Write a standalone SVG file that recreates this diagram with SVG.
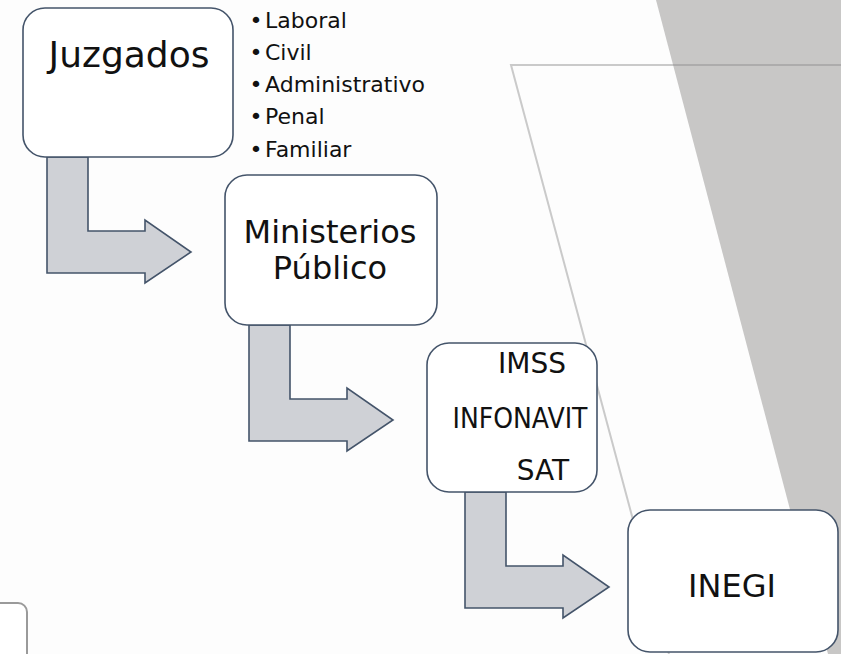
<svg xmlns="http://www.w3.org/2000/svg" width="841" height="654" viewBox="0 0 841 654">
  <style>
    .box { fill: #ffffff; stroke: #44546a; stroke-width: 1.6; }
    .arrow { fill: #cfd1d6; stroke: #44546a; stroke-width: 1.6; stroke-linejoin: miter; }
    .t { font-family: "DejaVu Sans", "Liberation Sans", sans-serif; fill: #111111; }
    .big { font-size: 32px; text-anchor: middle; }
    .li { font-size: 22px; }
    .bul { font-size: 22px; text-anchor: middle; }
  </style>
  <defs>
    <path id="bentArrow" d="M0,0 H41 V74 H98 V63 L144,95 L98,126 V116 H0 Z"/>
  </defs>

  <g id="background">
    <rect x="0" y="0" width="841" height="654" fill="#fdfdfd"/>
    <polygon points="656,0 841,0 841,654 828,654" fill="#c8c7c6"/>
    <polyline points="841,65 511,65 669,654" fill="none" stroke="#8c8c8c" stroke-opacity="0.45" stroke-width="2"/>
    <rect x="-30" y="603" width="57" height="80" rx="9" fill="#ffffff" stroke="#9a9a9a" stroke-width="2"/>
  </g>

  <g id="connectors">
    <use href="#bentArrow" class="arrow" x="47" y="157"/>
    <use href="#bentArrow" class="arrow" x="249" y="325"/>
    <use href="#bentArrow" class="arrow" x="465" y="492"/>
  </g>

  <g id="juzgados">
    <rect class="box" x="23" y="8" width="210" height="149" rx="22"/>
    <text class="t" x="129" y="67" font-size="36" text-anchor="middle">Juzgados</text>
  </g>

  <g id="juzgados-list">
    <text class="t bul" x="256" y="28">•</text><text class="t li" x="265" y="28">Laboral</text>
    <text class="t bul" x="256" y="60">•</text><text class="t li" x="265" y="60">Civil</text>
    <text class="t bul" x="256" y="92">•</text><text class="t li" x="265" y="92">Administrativo</text>
    <text class="t bul" x="256" y="124">•</text><text class="t li" x="265" y="124">Penal</text>
    <text class="t bul" x="256" y="157">•</text><text class="t li" x="265" y="157">Familiar</text>
  </g>

  <g id="ministerios">
    <rect class="box" x="225" y="175" width="212" height="150" rx="22"/>
    <text class="t big" x="330" y="243">Ministerios</text>
    <text class="t big" x="330" y="279">Público</text>
  </g>

  <g id="imss">
    <rect class="box" x="427" y="343" width="170" height="149" rx="22"/>
    <text class="t" x="532" y="373" font-size="28" text-anchor="middle">IMSS</text>
    <text class="t" x="520" y="428" font-size="28" text-anchor="middle" textLength="135" lengthAdjust="spacingAndGlyphs">INFONAVIT</text>
    <text class="t" x="543" y="480" font-size="28" text-anchor="middle">SAT</text>
  </g>

  <g id="inegi">
    <rect class="box" x="628" y="510" width="210" height="142" rx="22"/>
    <text class="t" x="732" y="597" font-size="32" text-anchor="middle">INEGI</text>
  </g>
</svg>
